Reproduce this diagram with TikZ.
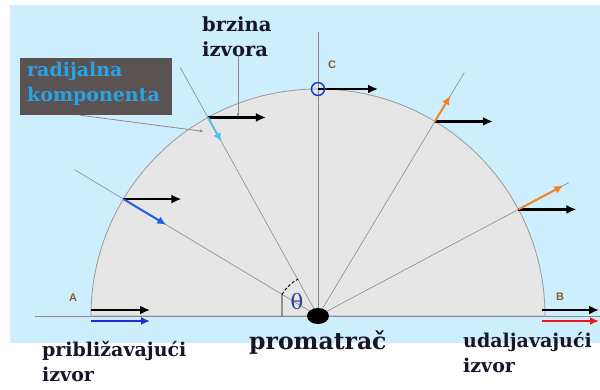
\documentclass[tikz,border=0pt]{standalone}
\usepackage{fontspec}
\newfontfamily\labelfont{DejaVu Serif}
\newfontfamily\pointfont{Liberation Sans}
\usetikzlibrary{arrows.meta,positioning,calc}
\definecolor{skyback}{HTML}{CCEEFD}
\definecolor{disc}{HTML}{E6E6E6}
\definecolor{rim}{HTML}{9A9A9A}
\definecolor{raygray}{HTML}{8A8A8A}
\definecolor{navy}{HTML}{161628}
\definecolor{tan}{HTML}{8B5A2B}
\definecolor{boxgray}{HTML}{5A5351}
\definecolor{radblue}{HTML}{2AA2E6}
\definecolor{deepblue}{HTML}{1A2ED8}
\definecolor{midblue}{HTML}{1F5FE6}
\definecolor{paleblue}{HTML}{55BDF2}
\definecolor{flame}{HTML}{F58220}
\definecolor{recede}{HTML}{EE1620}
\definecolor{thetablue}{HTML}{2A3F9A}
\tikzset{
  vel/.style={-{Latex[length=10pt,width=9pt]},line width=2.6pt,color=black},
  rad/.style={-{Latex[length=9pt,width=8pt]},line width=2pt},
  rayline/.style={color=raygray,line width=0.6pt},
  pointer/.style={-{Latex[length=4pt,width=3pt]},color=raygray,line width=0.8pt},
  lbl/.style={font=\labelfont\bfseries\fontsize{19}{25}\selectfont,text=navy,align=left,inner sep=0pt},
  ptlbl/.style={font=\pointfont\bfseries\fontsize{11}{12}\selectfont,text=tan,inner sep=0pt},
}
\begin{document}
\begin{tikzpicture}[x=1pt,y=1pt]
  \useasboundingbox (0,0) rectangle (600,390);
  \fill[skyback] (10,47) rectangle (600,385);
  % observer and points on the circle
  \coordinate (O) at (318,74);
  \coordinate (A) at ($(O)+(180:227)$); \coordinate (B) at ($(O)+(0:227)$);
  \coordinate (C) at ($(O)+(90:227)$);
  \coordinate (P1) at ($(O)+(149:227)$); \coordinate (P2) at ($(O)+(119:227)$);
  \coordinate (P3) at ($(O)+(59:227)$); \coordinate (P4) at ($(O)+(28:227)$);
  \coordinate (E1) at ($(O)+(149:284)$); \coordinate (E2) at ($(O)+(119:284)$);
  \coordinate (E3) at ($(O)+(59:284)$); \coordinate (E4) at ($(O)+(28:284)$);
  \coordinate (top) at (318,358); \coordinate (L) at (35,74); \coordinate (R) at (600,74);
  \draw[rim,fill=disc,line width=0.8pt] (A) arc[start angle=180,end angle=0,radius=227] -- cycle;
  \draw[rayline] (L) -- (R);
  \draw[rayline] (O) -- (top);
  \draw[rayline] (O) -- (E1); \draw[rayline] (O) -- (E2);
  \draw[rayline] (O) -- (E3); \draw[rayline] (O) -- (E4);
  % angle mark
  \draw[line width=0.9pt] (282,74) -- ($(O)+(149:42)$);
  \draw[line width=0.9pt,densely dashed] ($(O)+(149:42)$) arc[start angle=149,end angle=118,radius=42];
  \node[text=thetablue,font=\labelfont\fontsize{21}{22}\selectfont,inner sep=0pt] (theta) at (297,88) {θ};
  % source velocity
  \draw[vel] ($(A)+(0,6)$) -- ++(59,0);
  \draw[vel] (P1) -- ++(58,0);
  \draw[vel] (P2) -- ++(58,0);
  \draw[vel] (C) -- ++(60,0);
  \draw[vel] (P3) -- ++(58,0);
  \draw[vel] (P4) -- ++(58,0);
  \draw[vel] ($(B)+(-3,6)$) -- ++(57,0);
  % radial component
  \draw[rad,deepblue] ($(A)+(0,-5)$) -- ++(59,0);
  \draw[rad,midblue] (P1) -- ($(P1)!50pt!(O)$);
  \draw[rad,paleblue] (P2) -- ($(P2)!28pt!(O)$);
  \draw[rad,flame] (P3) -- ($(P3)!-30pt!(O)$);
  \draw[rad,flame] (P4) -- ($(P4)!-51pt!(O)$);
  \draw[rad,recede] ($(B)+(-3,-5)$) -- ++(57,0);
  \draw[deepblue,line width=1.4pt] (C) circle[radius=6.5];
  \fill[black] (O) ellipse[x radius=11,y radius=8];
  % labels
  \node[ptlbl] (la) at (73,92) {A};
  \node[ptlbl] (lb) at (560,93) {B};
  \node[ptlbl] (lc) at (332,325) {C};
  \node[lbl,anchor=north west,font=\labelfont\bfseries\fontsize{19.5}{25}\selectfont] (speed) at (202,374) {brzina\\izvora};
  \node[fill=boxgray,minimum width=152pt,minimum height=57pt,inner sep=0pt] (radbox) at (96,303.5) {};
  \node[lbl,text=radblue,anchor=north west] (radial) at (27,328) {radijalna\\komponenta};
  \coordinate (V2) at ($(P2)+(30,0)$);
  \coordinate (R2) at ($(P2)+(-4,-14)$);
  \draw[pointer] (speed.south -| V2) -- (V2);
  \draw[pointer] ($(radbox.south)+(-16,0)$) -- (R2);
  \node[lbl,anchor=north west] (near) at (42,49) {približavajući\\izvor};
  \node[lbl,anchor=north west,font=\labelfont\bfseries\fontsize{23.5}{26}\selectfont] (obs) at (249,59) {promatrač};
  \node[lbl,anchor=north west] (far) at (463,58) {udaljavajući\\izvor};
\end{tikzpicture}
\end{document}
